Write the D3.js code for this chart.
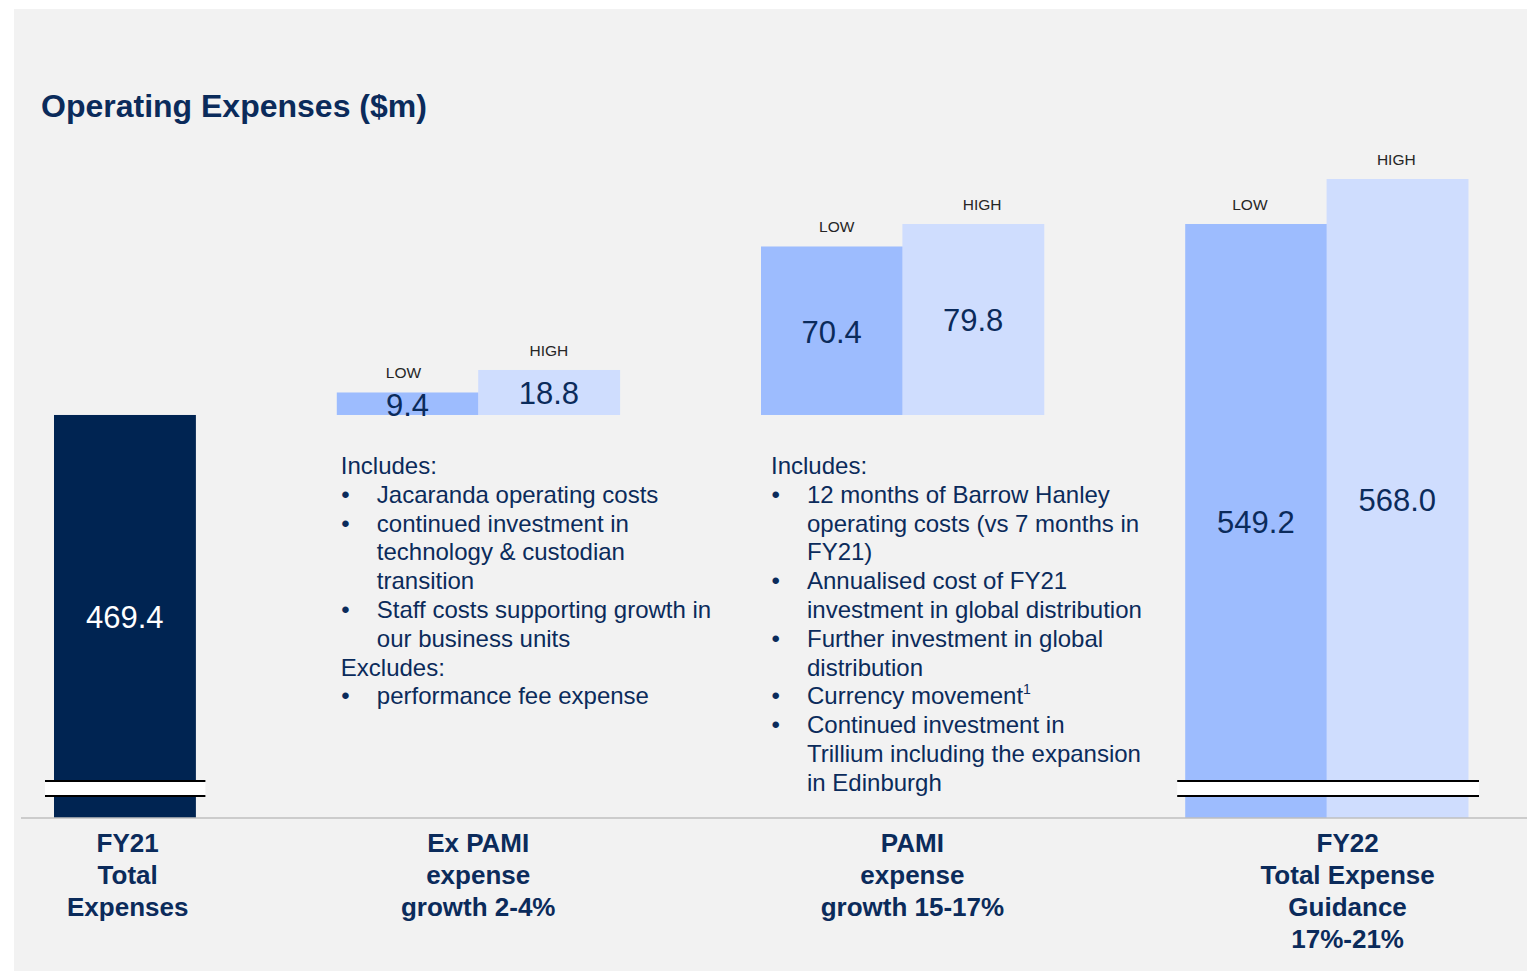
<!DOCTYPE html>
<html>
<head>
<meta charset="utf-8">
<script src="https://cdn.jsdelivr.net/npm/d3@7"></script>
<style>
  html, body { margin: 0; padding: 0; background: #ffffff; }
  svg { display: block; font-family: "Liberation Sans", Arial, sans-serif; }
</style>
</head>
<body>
<svg id="chart" width="1527" height="971"></svg>
<script>
// ---------------- DATA ----------------
const titleText = "Operating Expenses ($m)";
const categoryLines = [
  ["FY21", "Total", "Expenses"],
  ["Ex PAMI", "expense", "growth 2-4%"],
  ["PAMI", "expense", "growth 15-17%"],
  ["FY22", "Total Expense", "Guidance", "17%-21%"]
];
const scenarioLabels = ["LOW", "HIGH"];
const fy21Total = 469.4;
const exPamiGrowth = [9.4, 18.8];   // LOW, HIGH
const pamiGrowth = [70.4, 79.8];    // LOW, HIGH
const fy22Total = [549.2, 568.0];   // LOW, HIGH
const axisFloor = 301;              // value at the (broken) baseline
const exPamiNotes = [
  { t: "Includes:", b: false },
  { t: "Jacaranda operating costs", b: true },
  { t: "continued investment in", b: true },
  { t: "technology & custodian", b: false, indent: true },
  { t: "transition", b: false, indent: true },
  { t: "Staff costs supporting growth in", b: true },
  { t: "our business units", b: false, indent: true },
  { t: "Excludes:", b: false },
  { t: "performance fee expense", b: true }
];
const pamiNotes = [
  { t: "Includes:", b: false },
  { t: "12 months of Barrow Hanley", b: true },
  { t: "operating costs (vs 7 months in", b: false, indent: true },
  { t: "FY21)", b: false, indent: true },
  { t: "Annualised cost of FY21", b: true },
  { t: "investment in global distribution", b: false, indent: true },
  { t: "Further investment in global", b: true },
  { t: "distribution", b: false, indent: true },
  { t: "Currency movement", b: true, sup: "1" },
  { t: "Continued investment in", b: true },
  { t: "Trillium including the expansion", b: false, indent: true },
  { t: "in Edinburgh", b: false, indent: true }
];

// ---------------- STYLE / LAYOUT ----------------
const NAVY = "#002452";
const TEXT_NAVY = "#0b2b5b";
const LOW_COL = "#9dbcfe";
const HIGH_COL = "#cfddfe";
const W = 1527, H = 971;
// small horizontal nudges of LOW/HIGH labels (text-box placement in the original)
const scenarioDx = { exLow: -4, exHigh: 0, pamiLow: 5, pamiHigh: 9, fy22Low: -6, fy22High: -1 };

// slots for a band scale (spacers included)
const slots = ["fy21", "gap1", "exLow", "exHigh", "gap2", "pamiLow", "pamiHigh", "gap3", "fy22Low", "fy22High"];

const svg = d3.select("#chart");

// background panel
svg.append("rect").attr("x", 14).attr("y", 9).attr("width", W - 14).attr("height", H - 9).attr("fill", "#f2f2f2");

// title
svg.append("text").attr("x", 41).attr("y", 117)
  .attr("font-size", 32).attr("font-weight", "bold").attr("fill", TEXT_NAVY)
  .text(titleText);

const baseY = 818;
const x = d3.scaleBand().domain(slots).range([54, 1468]).paddingInner(0).paddingOuter(0);
const y = d3.scaleLinear().domain([axisFloor, d3.max(fy22Total)]).range([baseY, 179]);

// build bar list
const bars = [];
bars.push({ slot: "fy21", y0: axisFloor, y1: fy21Total, value: fy21Total, fill: NAVY, textFill: "#ffffff", label: null });
const groups = [
  { keys: ["exLow", "exHigh"], vals: exPamiGrowth, floating: true },
  { keys: ["pamiLow", "pamiHigh"], vals: pamiGrowth, floating: true },
  { keys: ["fy22Low", "fy22High"], vals: fy22Total, floating: false }
];
groups.forEach(g => {
  g.vals.forEach((v, i) => {
    bars.push({
      slot: g.keys[i],
      y0: g.floating ? fy21Total : axisFloor,
      y1: g.floating ? fy21Total + v : v,
      value: v,
      fill: i === 0 ? LOW_COL : HIGH_COL,
      textFill: TEXT_NAVY,
      label: scenarioLabels[i]
    });
  });
});

const bw = x.bandwidth();
svg.selectAll("rect.bar").data(bars).join("rect").attr("class", "bar")
  .attr("x", d => x(d.slot)).attr("width", bw + 0.5)
  .attr("y", d => y(d.y1)).attr("height", d => y(d.y0) - y(d.y1))
  .attr("fill", d => d.fill);

// value labels
svg.selectAll("text.val").data(bars).join("text").attr("class", "val")
  .attr("x", d => x(d.slot) + bw / 2)
  .attr("y", d => (y(d.y0) + y(d.y1)) / 2 + 12)
  .attr("text-anchor", "middle").attr("font-size", 31)
  .attr("fill", d => d.textFill)
  .text(d => d.value.toFixed(1));

// LOW/HIGH labels
svg.selectAll("text.scen").data(bars.filter(d => d.label)).join("text").attr("class", "scen")
  .attr("x", d => x(d.slot) + bw / 2 + (scenarioDx[d.slot] || 0))
  .attr("y", d => y(d.y1) - 14)
  .attr("text-anchor", "middle").attr("font-size", 15.5)
  .attr("fill", "#262626")
  .text(d => d.label);

// axis baseline
svg.append("line").attr("x1", 21).attr("x2", W).attr("y1", baseY).attr("y2", baseY)
  .attr("stroke", "#bfbfbf").attr("stroke-width", 1.5);

// axis break symbols
function breakMark(x0, x1) {
  const g = svg.append("g");
  g.append("rect").attr("x", x0).attr("y", baseY - 37).attr("width", x1 - x0).attr("height", 15).attr("fill", "#ffffff");
  [baseY - 37, baseY - 22].forEach(yy => {
    g.append("line").attr("x1", x0).attr("x2", x1).attr("y1", yy).attr("y2", yy)
      .attr("stroke", "#000000").attr("stroke-width", 2.2);
  });
}
breakMark(x("fy21") - 9, x("fy21") + bw + 10);
breakMark(x("fy22Low") - 8, x("fy22High") + bw + 11);

// category labels
const catCenters = [
  x("fy21") + bw / 2 + 3,
  x("exHigh"),
  x("pamiHigh") + 10,
  x("fy22High") + 21
];
categoryLines.forEach((lines, i) => {
  const t = svg.append("text").attr("text-anchor", "middle")
    .attr("font-size", 26).attr("font-weight", "bold").attr("fill", TEXT_NAVY);
  lines.forEach((ln, j) => {
    t.append("tspan").attr("x", catCenters[i]).attr("y", 852 + j * 32).text(ln);
  });
});

// note blocks
function notes(list, x0) {
  const g = svg.append("g").attr("font-size", 24).attr("fill", TEXT_NAVY);
  list.forEach((n, i) => {
    const yy = 474 + i * 28.8;
    if (n.b) {
      g.append("text").attr("x", x0 + 0.5).attr("y", yy).attr("font-size", 24).text("•");
    }
    const t = g.append("text").attr("x", (n.b || n.indent) ? x0 + 36 : x0).attr("y", yy).text(n.t);
    if (n.sup) t.append("tspan").attr("font-size", 14).attr("dy", -10).text(n.sup);
  });
}
notes(exPamiNotes, x("exLow") + 4);
notes(pamiNotes, x("pamiLow") + 10);
</script>
</body>
</html>
